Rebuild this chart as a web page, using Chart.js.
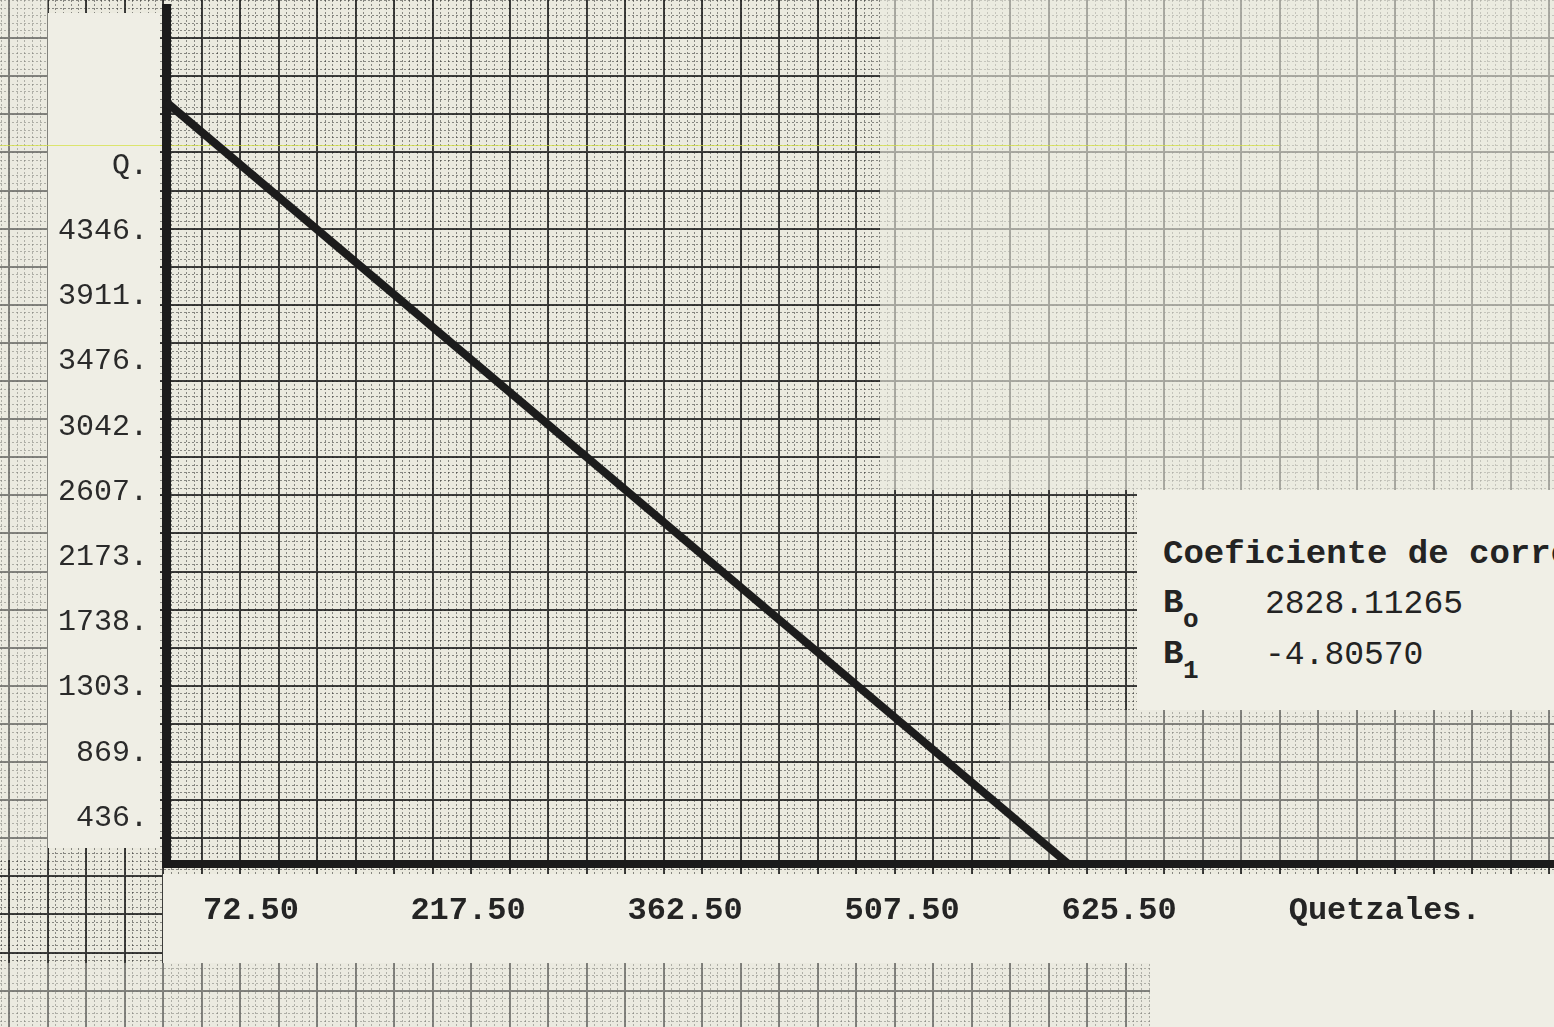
<!DOCTYPE html>
<html><head><meta charset="utf-8">
<script src="https://cdn.jsdelivr.net/npm/chart.js@4.4.0/dist/chart.umd.min.js"></script>
<style>
html,body{margin:0;padding:0;overflow:hidden;background:#ebeadf;}
#wrap{position:relative;width:1554px;height:1027px;overflow:hidden;}
#c{position:absolute;left:0;top:0;}
#coef{position:absolute;left:1137px;top:490px;width:417px;height:220px;background:#f0efe6;overflow:hidden;font-family:"Liberation Mono",monospace;color:#232323;white-space:nowrap;}
#coef div{position:absolute;line-height:1;}
</style></head><body>
<div id="wrap"><canvas id="c" width="1554" height="1027"></canvas><div id="coef"></div></div>
<script>
// ---- data ----
const yTickValues = [436, 869, 1303, 1738, 2173, 2607, 3042, 3476, 3911, 4346, 4780];
const yTickLabels = ["436.", "869.", "1303.", "1738.", "2173.", "2607.", "3042.", "3476.", "3911.", "4346.", "Q."];
const xTickValues = [72.5, 217.5, 362.5, 507.5, 652.5, 830];
const xTickLabels = ["72.50", "217.50", "362.50", "507.50", "625.50", "Quetzales."];
const lineX = [0, 603];
const lineY = [5080, 0];
const coefTitle = "Coeficiente de correlación";
const coefNames = ["B", "B"];
const coefSubs = ["o", "1"];
const coefValues = ["2828.11265", "-4.80570"];

// ---- coefficient box ----
const box = document.getElementById('coef');
function addText(txt, left, top, size, weight){
  const d = document.createElement('div');
  d.textContent = txt; d.style.left = left + 'px'; d.style.top = top + 'px';
  d.style.fontSize = size + 'px'; d.style.fontWeight = weight;
  box.appendChild(d);
}
addText(coefTitle, 26, 47, 34, 'bold');
coefNames.forEach((n, i) => {
  const top = 96 + i * 51;
  addText(n, 26, top, 34, 'bold');
  addText(coefSubs[i], 46, top + 21, 26, 'bold');
  addText(coefValues[i], 128, top + 2, 33, 'normal');
});

// ---- graph paper background (decoration) ----
const paper = {
  id: 'paper',
  beforeDraw(chart){
    const ctx = chart.ctx, W = chart.width, H = chart.height;
    ctx.save();
    ctx.fillStyle = '#ebeadf'; ctx.fillRect(0, 0, W, H);
    const vx0 = 9, vStep = 38.5, hy0 = 0, hStep = 38.1;
    // minor dotted lines
    ctx.strokeStyle = 'rgba(35,35,35,0.5)'; ctx.lineWidth = 1; ctx.setLineDash([2, 2]);
    ctx.beginPath();
    for (let x = vx0 - vStep; x < W; x += vStep / 5){ ctx.moveTo(Math.round(x) + 0.5, 0); ctx.lineTo(Math.round(x) + 0.5, H); }
    for (let y = hy0; y < H; y += hStep / 5){ ctx.moveTo(0, Math.round(y) + 0.5); ctx.lineTo(W, Math.round(y) + 0.5); }
    ctx.stroke();
    // major lines
    ctx.setLineDash([]);
    ctx.strokeStyle = 'rgba(30,30,30,0.85)'; ctx.lineWidth = 2;
    ctx.beginPath();
    for (let x = vx0; x < W; x += vStep){ ctx.moveTo(Math.round(x), 0); ctx.lineTo(Math.round(x), H); }
    for (let y = hy0 + hStep; y < H; y += hStep){ ctx.moveTo(0, Math.round(y)); ctx.lineTo(W, Math.round(y)); }
    ctx.stroke();
    // lighter scanned zones
    ctx.fillStyle = 'rgba(236,235,224,0.62)';
    ctx.fillRect(880, 0, W - 880, 490);
    ctx.fillStyle = 'rgba(236,235,224,0.4)';
    ctx.fillRect(1000, 710, W - 1000, 150);
    ctx.fillRect(0, 0, 48, 860);
    ctx.fillRect(0, 963, 1150, 64);
    // blank label strips
    ctx.fillStyle = '#efeee5';
    ctx.fillRect(48, 13, 112, 835);
    ctx.fillRect(163, 874, 987, 89);
    ctx.fillRect(1150, 874, W - 1150, H - 874);
    // faint yellow scan streak
    ctx.strokeStyle = 'rgba(214,226,70,0.75)'; ctx.lineWidth = 1;
    ctx.beginPath(); ctx.moveTo(0, 145.5); ctx.lineTo(1280, 145.5); ctx.stroke();
    ctx.restore();
  }
};

new Chart(document.getElementById('c'), {
  type: 'line',
  data: {
    datasets: [{
      data: lineX.map((x, i) => ({x, y: lineY[i]})),
      borderColor: '#1c1c1c',
      borderWidth: 8,
      pointRadius: 0,
      tension: 0,
      borderCapStyle: 'butt'
    }]
  },
  plugins: [paper],
  options: {
    responsive: false,
    animation: false,
    devicePixelRatio: 1,
    layout: {padding: {top: 8, right: 0, bottom: 0, left: 0}},
    plugins: {legend: {display: false}, tooltip: {enabled: false}},
    scales: {
      x: {
        type: 'linear', min: 0, max: 927.4,
        afterFit(s){ s.height = 163; s.paddingLeft = 0; s.paddingRight = 0; },
        afterBuildTicks(s){ s.ticks = xTickValues.map(v => ({value: v})); },
        grid: {display: false, drawTicks: false},
        border: {display: true, width: 8, color: '#1b1b1b'},
        ticks: {
          autoSkip: false, maxRotation: 0, minRotation: 0,
          padding: 28, labelOffset: -23.5,
          color: '#242424',
          font: {family: '"Liberation Mono", monospace', size: 32, weight: 'bold'},
          callback: (v, i) => xTickLabels[i]
        }
      },
      y: {
        type: 'linear', min: 0, max: 5706,
        afterFit(s){ s.width = 166; s.paddingTop = 0; s.paddingBottom = 0; },
        afterBuildTicks(s){ s.ticks = yTickValues.map(v => ({value: v})); },
        grid: {display: false, drawTicks: false},
        border: {display: true, width: 9, color: '#1b1b1b'},
        ticks: {
          autoSkip: false,
          padding: 18, labelOffset: 19,
          color: '#2a2a2a',
          font: {family: '"Liberation Mono", monospace', size: 30, weight: 'normal'},
          callback: (v, i) => yTickLabels[i]
        }
      }
    }
  }
});
</script>
</body></html>
